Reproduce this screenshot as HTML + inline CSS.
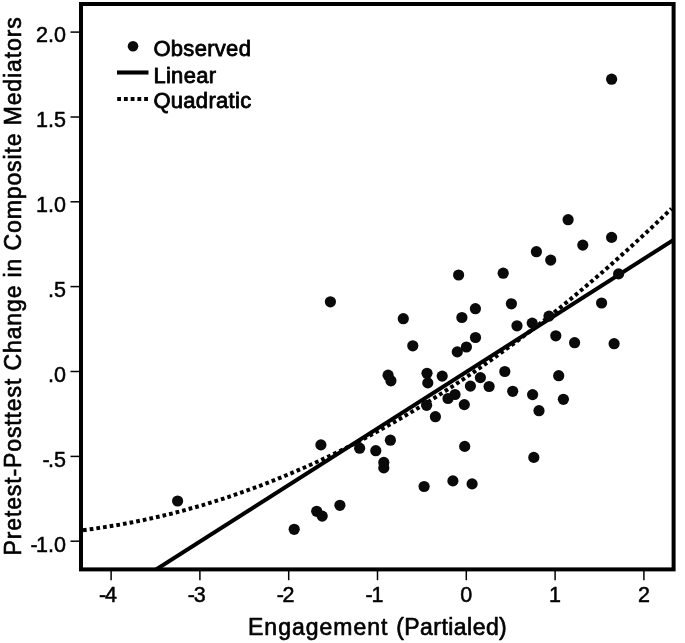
<!DOCTYPE html>
<html><head><meta charset="utf-8"><title>Scatter</title>
<style>
html,body{margin:0;padding:0;background:#fff;}
svg{display:block;}
text{font-family:"Liberation Sans",sans-serif;fill:#000;font-kerning:none;stroke:#000;stroke-width:0.55px;stroke-linejoin:round;}
.tk{font-size:21.5px;letter-spacing:0px;stroke-width:0.5px;}
.lg{font-size:22px;letter-spacing:0.3px;stroke-width:0.8px;}
.ti{font-size:23px;letter-spacing:0.7px;stroke-width:0.65px;}
</style></head><body>
<svg width="685" height="643" viewBox="0 0 685 643">
<rect x="0" y="0" width="685" height="643" fill="#fff"/>
<defs><clipPath id="cp"><rect x="81" y="4" width="592.6" height="565.4"/></clipPath></defs>

<g clip-path="url(#cp)">
<path d="M83.0,530.2 L93.0,528.9 L102.9,527.4 L112.9,525.8 L122.9,524.1 L132.9,522.2 L142.8,520.2 L152.8,518.0 L162.8,515.7 L172.8,513.3 L182.7,510.7 L192.7,507.9 L202.7,505.1 L212.7,502.0 L222.6,498.9 L232.6,495.6 L242.6,492.1 L252.6,488.5 L262.5,484.8 L272.5,480.9 L282.5,476.9 L292.5,472.7 L302.4,468.4 L312.4,464.0 L322.4,459.4 L332.4,454.6 L342.3,449.8 L352.3,444.7 L362.3,439.6 L372.3,434.3 L382.2,428.8 L392.2,423.2 L402.2,417.5 L412.2,411.6 L422.1,405.6 L432.1,399.4 L442.1,393.1 L452.1,386.6 L462.0,380.1 L472.0,373.3 L482.0,366.4 L492.0,359.4 L501.9,352.2 L511.9,344.9 L521.9,337.5 L531.9,329.9 L541.8,322.2 L551.8,314.3 L561.8,306.3 L571.8,298.1 L581.7,289.8 L591.7,281.3 L601.7,272.7 L611.7,264.0 L621.6,255.1 L631.6,246.1 L641.6,236.9 L651.6,227.6 L661.5,218.2 L671.5,208.6" fill="none" stroke="#000" stroke-width="4" stroke-dasharray="3.7 3.04"/>
<line x1="143.5" y1="577.5" x2="687.5" y2="231.0" stroke="#000" stroke-width="4" />
</g>
<g fill="#0a0a0a">
<circle cx="294.2" cy="529.3" r="5.6"/>
<circle cx="316.7" cy="511.3" r="5.6"/>
<circle cx="322.2" cy="516.1" r="5.6"/>
<circle cx="339.9" cy="505.3" r="5.6"/>
<circle cx="320.9" cy="444.9" r="5.6"/>
<circle cx="359.6" cy="448.2" r="5.6"/>
<circle cx="375.8" cy="450.7" r="5.6"/>
<circle cx="390.4" cy="440.2" r="5.6"/>
<circle cx="383.8" cy="462.4" r="5.6"/>
<circle cx="383.8" cy="467.9" r="5.6"/>
<circle cx="424.1" cy="486.5" r="5.6"/>
<circle cx="426.6" cy="405.3" r="5.6"/>
<circle cx="435.4" cy="416.7" r="5.6"/>
<circle cx="452.9" cy="480.9" r="5.6"/>
<circle cx="472.1" cy="483.9" r="5.6"/>
<circle cx="464.7" cy="446.4" r="5.6"/>
<circle cx="533.8" cy="457.4" r="5.6"/>
<circle cx="464.3" cy="404.6" r="5.6"/>
<circle cx="539.0" cy="410.7" r="5.6"/>
<circle cx="563.4" cy="399.3" r="5.6"/>
<circle cx="412.8" cy="345.8" r="5.6"/>
<circle cx="475.5" cy="337.5" r="5.6"/>
<circle cx="466.4" cy="347.0" r="5.6"/>
<circle cx="457.3" cy="351.9" r="5.6"/>
<circle cx="388.1" cy="375.2" r="5.6"/>
<circle cx="390.9" cy="380.8" r="5.6"/>
<circle cx="427.0" cy="373.3" r="5.6"/>
<circle cx="427.8" cy="382.9" r="5.6"/>
<circle cx="442.2" cy="376.1" r="5.6"/>
<circle cx="480.4" cy="377.6" r="5.6"/>
<circle cx="470.4" cy="386.1" r="5.6"/>
<circle cx="489.1" cy="386.5" r="5.6"/>
<circle cx="455.0" cy="394.5" r="5.6"/>
<circle cx="448.0" cy="398.5" r="5.6"/>
<circle cx="511.4" cy="303.8" r="5.6"/>
<circle cx="601.6" cy="303.0" r="5.6"/>
<circle cx="517.0" cy="325.8" r="5.6"/>
<circle cx="532.2" cy="323.1" r="5.6"/>
<circle cx="549.0" cy="316.1" r="5.6"/>
<circle cx="555.8" cy="335.8" r="5.6"/>
<circle cx="574.6" cy="342.7" r="5.6"/>
<circle cx="614.1" cy="343.7" r="5.6"/>
<circle cx="504.8" cy="371.5" r="5.6"/>
<circle cx="512.7" cy="391.3" r="5.6"/>
<circle cx="532.6" cy="394.6" r="5.6"/>
<circle cx="558.7" cy="375.7" r="5.6"/>
<circle cx="536.4" cy="251.7" r="5.6"/>
<circle cx="550.7" cy="260.1" r="5.6"/>
<circle cx="458.6" cy="275.0" r="5.6"/>
<circle cx="503.2" cy="273.2" r="5.6"/>
<circle cx="475.4" cy="308.7" r="5.6"/>
<circle cx="461.9" cy="317.5" r="5.6"/>
<circle cx="403.3" cy="318.7" r="5.6"/>
<circle cx="611.6" cy="79.2" r="5.6"/>
<circle cx="568.1" cy="219.7" r="5.6"/>
<circle cx="611.6" cy="237.4" r="5.6"/>
<circle cx="582.8" cy="245.1" r="5.6"/>
<circle cx="618.6" cy="273.9" r="5.6"/>
<circle cx="177.6" cy="501.0" r="5.6"/>
<circle cx="330.4" cy="301.8" r="5.6"/>
</g>
<rect x="81" y="4" width="592.6" height="565.4" fill="none" stroke="#000" stroke-width="4"/>
<g stroke="#000" stroke-width="1.5">
<line x1="70.5" x2="79.5" y1="32.1" y2="32.1"/>
<line x1="70.5" x2="79.5" y1="117.0" y2="117.0"/>
<line x1="70.5" x2="79.5" y1="201.8" y2="201.8"/>
<line x1="70.5" x2="79.5" y1="286.6" y2="286.6"/>
<line x1="70.5" x2="79.5" y1="371.5" y2="371.5"/>
<line x1="70.5" x2="79.5" y1="456.4" y2="456.4"/>
<line x1="70.5" x2="79.5" y1="541.2" y2="541.2"/>
<line y1="571" y2="580.2" x1="111.1" x2="111.1"/>
<line y1="571" y2="580.2" x1="199.9" x2="199.9"/>
<line y1="571" y2="580.2" x1="288.7" x2="288.7"/>
<line y1="571" y2="580.2" x1="377.5" x2="377.5"/>
<line y1="571" y2="580.2" x1="466.3" x2="466.3"/>
<line y1="571" y2="580.2" x1="555.1" x2="555.1"/>
<line y1="571" y2="580.2" x1="643.9" x2="643.9"/>
</g>
<text class="tk" x="66" y="42.4" text-anchor="end">2.0</text>
<text class="tk" x="66" y="127.3" text-anchor="end">1.5</text>
<text class="tk" x="66" y="212.1" text-anchor="end">1.0</text>
<text class="tk" x="66" y="296.9" text-anchor="end">.5</text>
<text class="tk" x="66" y="381.8" text-anchor="end">.0</text>
<text class="tk" x="66" y="466.7" text-anchor="end"><tspan style="letter-spacing:-1.6px">-</tspan>.5</text>
<text class="tk" x="66" y="551.5" text-anchor="end"><tspan style="letter-spacing:-1.6px">-</tspan>1.0</text>
<text class="tk" x="108.0" y="602.3" text-anchor="middle"><tspan style="letter-spacing:-1.2px">-</tspan>4</text>
<text class="tk" x="196.8" y="602.3" text-anchor="middle"><tspan style="letter-spacing:-1.2px">-</tspan>3</text>
<text class="tk" x="285.6" y="602.3" text-anchor="middle"><tspan style="letter-spacing:-1.2px">-</tspan>2</text>
<text class="tk" x="374.4" y="602.3" text-anchor="middle"><tspan style="letter-spacing:-1.2px">-</tspan>1</text>
<text class="tk" x="466.3" y="602.3" text-anchor="middle">0</text>
<text class="tk" x="555.1" y="602.3" text-anchor="middle">1</text>
<text class="tk" x="643.9" y="602.3" text-anchor="middle">2</text>
<text class="ti" y="635.2"><tspan x="248" style="letter-spacing:1.0px">Engagement</tspan> <tspan x="396.2" style="letter-spacing:0.45px">(Partialed)</tspan></text>
<text class="ti" style="letter-spacing:0.88px" transform="translate(20.9 555.5) rotate(-90)">Pretest-Posttest Change in Composite Mediators</text>
<circle cx="133" cy="46.3" r="5.3" fill="#0a0a0a"/>
<line x1="117" x2="148.5" y1="72.5" y2="72.5" stroke="#000" stroke-width="4.1"/>
<line x1="117.2" x2="148.2" y1="99.1" y2="99.1" stroke="#000" stroke-width="4" stroke-dasharray="3.8 2.94"/>
<text class="lg" x="153.4" y="56">Observed</text>
<text class="lg" x="153.4" y="82.6">Linear</text>
<text class="lg" x="153.4" y="108.1">Quadratic</text>
</svg></body></html>
